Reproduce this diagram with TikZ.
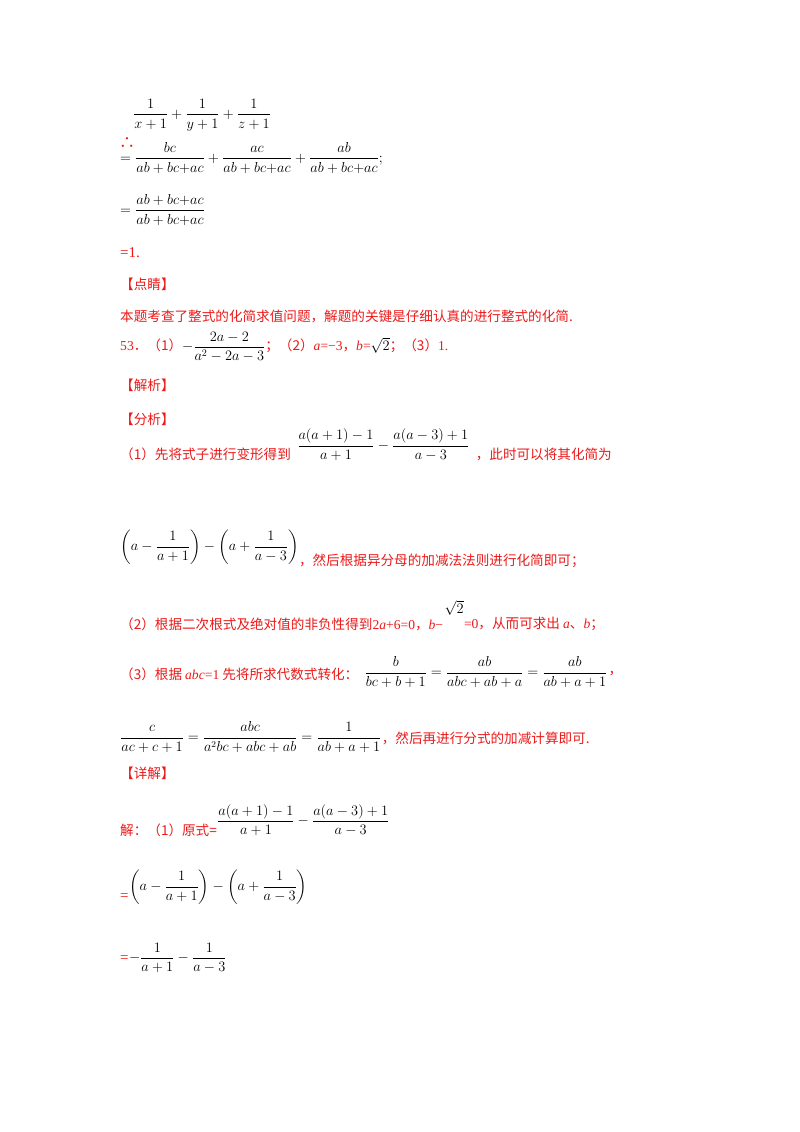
\documentclass[tikz,border=0pt]{standalone}
\usepackage{amsmath}
\usepackage{fontspec}
\setmainfont{Liberation Serif}
\newfontfamily\cjk{Noto Sans CJK SC}
\definecolor{rd}{RGB}{235,25,25}
\begin{document}
\begin{tikzpicture}[x=1pt,y=-1pt,
  t/.style={anchor=west,inner sep=0pt,font=\fontsize{13.6}{15}\selectfont\cjk,text=rd},
  m/.style={anchor=west,inner sep=0pt,font=\fontsize{13.3}{15}\selectfont,text=black}]
\useasboundingbox (0,0) rectangle (800,1132);
\node[m] (l1) at (133,115) {$\dfrac{1}{x+1}+\dfrac{1}{y+1}+\dfrac{1}{z+1}$};
\node[t,font=\fontsize{16}{18}\selectfont\cjk] (l2) at (119,143) {∴};
\node[m] (l3) at (120,158) {$=\dfrac{bc}{ab+bc{+}ac}+\dfrac{ac}{ab+bc{+}ac}+\dfrac{ab}{ab+bc{+}ac};$};
\node[m] (l4) at (120,210) {$=\dfrac{ab+bc{+}ac}{ab+bc{+}ac}$};
\node[t,font=\fontsize{15}{17}\selectfont] (l5) at (120,253) {=1.};
\node[t] (l6) at (120,284) {【点睛】};
\node[t] (l7) at (120,316) {本题考查了整式的化简求值问题，解题的关键是仔细认真的进行整式的化简.};
\node[t] (l8) at (120,347) {{\rmfamily 53}．（1）\textcolor{black}{$-\dfrac{2a-2}{a^2-2a-3}$}；（2）{\rmfamily\itshape a}{\rmfamily =−3}，{\rmfamily\itshape b}{\rmfamily =}\textcolor{black}{$\sqrt{2}$}；（3）{\rmfamily 1.}};
\node[t] (l9) at (120,385) {【解析】};
\node[t] (l10) at (120,419) {【分析】};
\node[t] (l11) at (120,454) {（1）先将式子进行变形得到};
\node[m] (f11) at ([xshift=6pt,yshift=9pt]l11.east) {$\dfrac{a(a+1)-1}{a+1}-\dfrac{a(a-3)+1}{a-3}$};
\node[t] (l11b) at ([xshift=6pt]l11.east -| f11.east) {，此时可以将其化简为};
\node[m] (l12) at (120,547) {$\left(a-\dfrac{1}{a+1}\right)-\left(a+\dfrac{1}{a-3}\right)$};
\node[t] (l12b) at ([yshift=-14pt]l12.east) {，然后根据异分母的加减法法则进行化简即可；};
\node[t] (l13) at (120,624) {（2）根据二次根式及绝对值的非负性得到{\rmfamily 2\textit{a}+6=0}，{\rmfamily\itshape b}{\rmfamily −}};
\node[m] (s13) at ([xshift=1pt,yshift=16pt]l13.east) {$\sqrt{2}$};
\node[t] (l13b) at (l13.east -| s13.east) {{\rmfamily =0}，从而可求出 {\rmfamily\itshape a}、{\rmfamily\itshape b}；};
\node[t] (l14) at (120,674) {（3）根据 {\rmfamily\itshape abc}{\rmfamily =1} 先将所求代数式转化：};
\node[m] (f14) at ([xshift=6pt,yshift=2pt]l14.east) {$\dfrac{b}{bc+b+1}=\dfrac{ab}{abc+ab+a}=\dfrac{ab}{ab+a+1}$};
\node[t] (f14b) at ([xshift=1pt]l14.east -| f14.east) {，};
\node[m] (l15) at (120,737) {$\dfrac{c}{ac+c+1}=\dfrac{abc}{a^2bc+abc+ab}=\dfrac{1}{ab+a+1}$};
\node[t] (l15b) at ([yshift=-1pt]l15.east) {，然后再进行分式的加减计算即可.};
\node[t] (l16) at (120,773) {【详解】};
\node[t] (l17) at (120,830) {解：（1）原式=};
\node[m] (f17) at ([yshift=10pt]l17.east) {$\dfrac{a(a+1)-1}{a+1}-\dfrac{a(a-3)+1}{a-3}$};
\node[t,font=\fontsize{15}{17}\selectfont] (l18) at (120,897) {=};
\node[m] (f18) at ([yshift=10pt]l18.east) {$\left(a-\dfrac{1}{a+1}\right)-\left(a+\dfrac{1}{a-3}\right)$};
\node[t,font=\fontsize{15}{17}\selectfont] (l19) at (120,959) {=};
\node[m] (f19) at ([yshift=1pt]l19.east) {$-\dfrac{1}{a+1}-\dfrac{1}{a-3}$};
\end{tikzpicture}
\end{document}
